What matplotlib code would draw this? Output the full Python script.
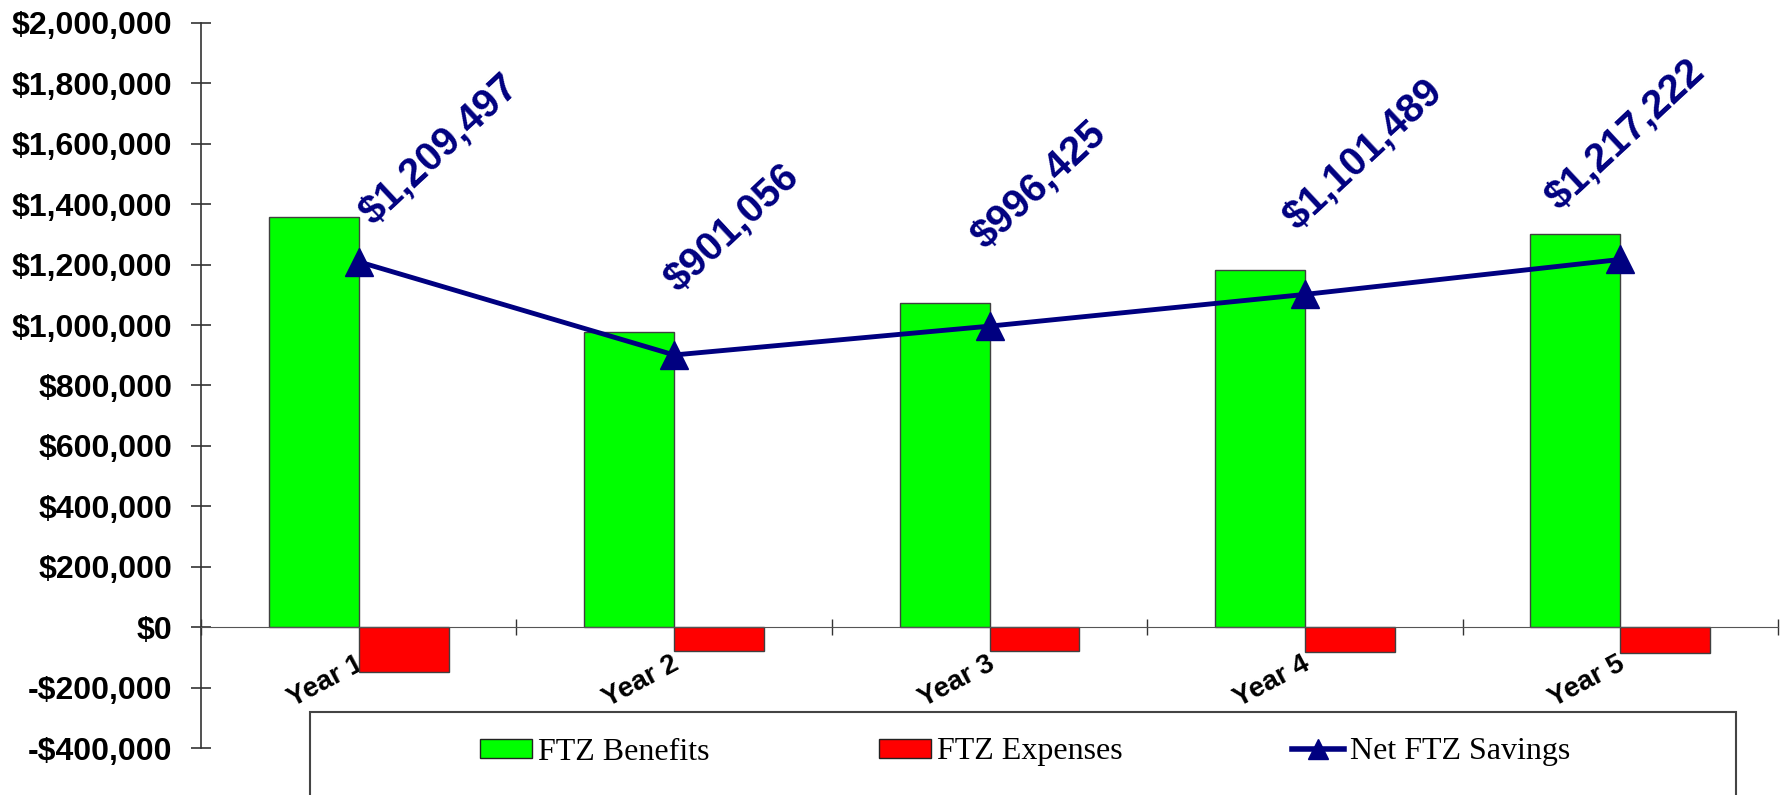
import matplotlib
matplotlib.use("Agg")
import matplotlib.pyplot as plt
from matplotlib.patches import Patch, Rectangle
from matplotlib.lines import Line2D
from matplotlib.ticker import FuncFormatter, FixedLocator, NullFormatter

OUT_FILE = "out.png"

years = ["Year 1", "Year 2", "Year 3", "Year 4", "Year 5"]
benefits = [1357000, 977000, 1074000, 1183000, 1301000]
expenses = [-150000, -78000, -80000, -82000, -85000]
net_savings = [1209497, 901056, 996425, 1101489, 1217222]
# label offsets (pixels) from each point
label_offsets = [(20, 30), (9, 56), (1, 70), (-2, 57), (-56, 42)]

GREEN = "#00FF00"
RED = "#FF0000"
NAVY = "#000080"
EDGE = "#404040"

plt.rcParams["font.family"] = ["Liberation Sans", "DejaVu Sans"]
plt.rcParams["font.weight"] = "bold"


def money(v, _pos=None):
    if v < 0:
        return f"-${abs(v):,.0f}"
    return f"${v:,.0f}"


def main():
    fig = plt.figure(figsize=(17.87, 7.95), dpi=100)
    ax = fig.add_axes([0.1125, 0.0591, 0.8825, 0.912])

    x = list(range(len(years)))
    w = 0.285
    ax.bar([i - w / 2 for i in x], benefits, width=w, color=GREEN,
           edgecolor=EDGE, linewidth=1.0, zorder=2)
    ax.bar([i + w / 2 for i in x], expenses, width=w, color=RED,
           edgecolor=EDGE, linewidth=1.0, zorder=2)
    ax.plot(x, net_savings, color=NAVY, linewidth=3.5, marker="^",
            markersize=20, zorder=3)

    for i, v in enumerate(net_savings):
        ax.annotate(money(v), (i, v), textcoords="offset pixels",
                    xytext=label_offsets[i], rotation=43,
                    rotation_mode="anchor", ha="left", va="bottom",
                    fontsize=29, fontweight="bold", color=NAVY, zorder=4)

    # category names sit under the expense bars, as in the original
    for i, name in enumerate(years):
        ax.annotate(name, (i, 0), textcoords="offset pixels", xytext=(-3, -24),
                    rotation=28, rotation_mode="anchor", ha="right", va="top",
                    fontsize=20, fontweight="bold", color="black", zorder=1)

    ax.set_xlim(-0.5, len(years) - 0.5)
    ax.set_ylim(-400000, 2000000)
    ax.set_yticks(range(-400000, 2000001, 200000))
    ax.yaxis.set_major_formatter(FuncFormatter(money))
    ax.tick_params(axis="y", direction="inout", length=14, width=1.2,
                   color="#333333", pad=13.5, labelsize=23)

    # category boundaries as ticks on the zero line
    ax.xaxis.set_major_locator(FixedLocator([i - 0.5 for i in range(len(years) + 1)]))
    ax.xaxis.set_major_formatter(NullFormatter())
    ax.tick_params(axis="x", which="major", direction="inout", length=12,
                   width=1.0, color="#333333")

    ax.spines["bottom"].set_position(("data", 0))
    ax.spines["bottom"].set_color("#555555")
    ax.spines["left"].set_color("#333333")
    ax.spines["left"].set_linewidth(1.2)
    ax.spines["top"].set_visible(False)
    ax.spines["right"].set_visible(False)

    # legend box (bottom edge runs off the figure)
    fig.patches.append(Rectangle((0.1735, -0.05), 0.798, 0.1544,
                                 transform=fig.transFigure, fill=False,
                                 edgecolor="#444444", linewidth=1.5))
    handles = [
        Patch(facecolor=GREEN, edgecolor="#222222", label="FTZ Benefits"),
        Patch(facecolor=RED, edgecolor="#222222", label="FTZ Expenses"),
        Line2D([], [], color=NAVY, linewidth=4, marker="^", markersize=15,
               label="Net FTZ Savings"),
    ]
    fig.legend(handles=handles, loc="center left",
               bbox_to_anchor=(480 / 1787, 1 - 752 / 795), ncol=3,
               frameon=False, borderpad=0, borderaxespad=0,
               handlelength=1.63, handleheight=0.53, handletextpad=0.19,
               columnspacing=5.3,
               prop={"family": "Liberation Serif", "size": 23,
                     "weight": "normal"})

    fig.savefig(OUT_FILE, dpi=100)


if __name__ == "__main__":
    main()
